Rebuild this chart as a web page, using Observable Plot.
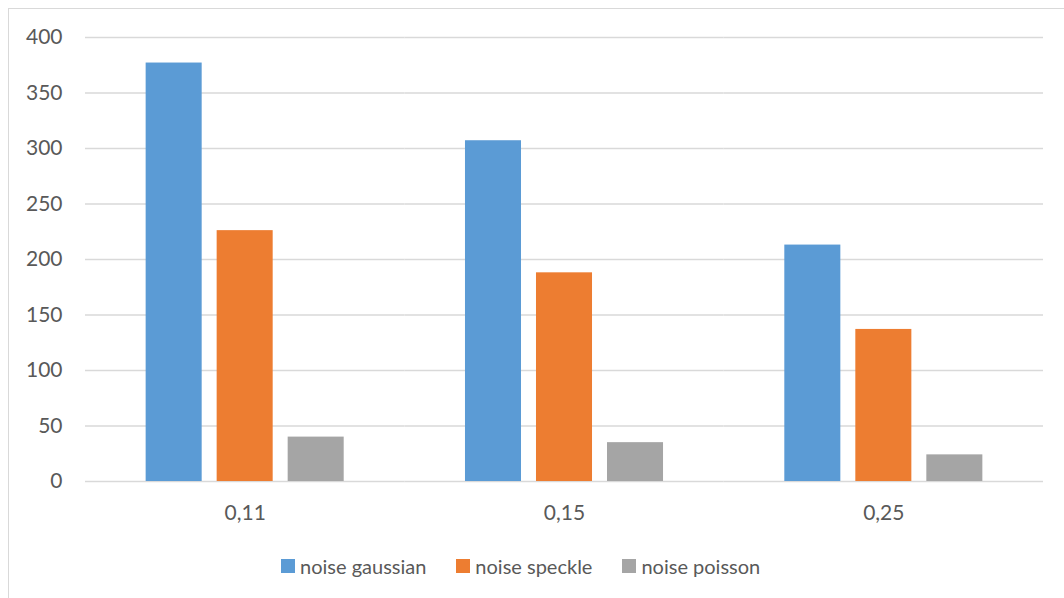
<!DOCTYPE html>
<html>
<head>
<meta charset="utf-8">
<script src="https://cdn.jsdelivr.net/npm/d3@7"></script>
<script src="https://cdn.jsdelivr.net/npm/@observablehq/plot@0.6"></script>
<style>
  html, body { margin: 0; padding: 0; background: #fff; }
  body { width: 1064px; height: 598px; overflow: hidden; position: relative; font-family: Lato, "Open Sans", sans-serif; }
  #frame { position: absolute; left: 8px; top: 8px; width: 1100px; height: 620px; border: 1px solid #d9d9d9; box-sizing: border-box; }
  #chart { position: absolute; left: 0; top: 0; }
  #legend { position: absolute; left: 281px; top: 553px; display: flex; align-items: center; font-size: 20px; line-height: 26px; color: #595959; white-space: nowrap; }
  #legend .item { display: flex; align-items: center; margin-right: 30px; }
  #legend .sw { width: 14px; height: 14px; margin-right: 5px; }
</style>
</head>
<body>
<div id="frame"></div>
<div id="chart"></div>
<div id="legend"></div>
<script>
const categories = ["0,11", "0,15", "0,25"];
const seriesNames = ["noise gaussian", "noise speckle", "noise poisson"];
const colors = ["#5b9bd5", "#ed7d31", "#a5a5a5"];
const gaussian = [377, 307, 213];
const speckle = [226, 188, 137];
const poisson = [40, 35, 24];
const yTicks = [0, 50, 100, 150, 200, 250, 300, 350, 400];

const seriesValues = [gaussian, speckle, poisson];
const data = [];
categories.forEach((c, i) => {
  seriesNames.forEach((s, j) => data.push({cat: c, series: s, value: seriesValues[j][i]}));
});

const chart = Plot.plot({
  width: 1064,
  height: 530,
  marginLeft: 85,
  marginRight: 21,
  marginTop: 37,
  marginBottom: 49,
  facet: {marginTop: 0, marginBottom: 0, marginLeft: 0, marginRight: 0},
  style: {fontFamily: "Lato, 'Open Sans', sans-serif", fontSize: "21px", color: "#595959", background: "transparent"},
  fx: {domain: categories, padding: 0, round: false, axis: "bottom", tickSize: 0, tickPadding: 24, label: null},
  x: {domain: seriesNames, paddingInner: 0.211, paddingOuter: 0.854, round: false, axis: null},
  y: {domain: [0, 400], ticks: yTicks, tickSize: 0, tickPadding: 23, label: null, tickFormat: d => String(d)},
  color: {domain: seriesNames, range: colors},
  marks: [
    Plot.ruleY(yTicks, {stroke: "#d9d9d9", strokeWidth: 1.5}),
    Plot.barY(data, {fx: "cat", x: "series", y: "value", fill: "series"})
  ]
});
document.getElementById("chart").appendChild(chart);

const legend = document.getElementById("legend");
seriesNames.forEach((s, i) => {
  const item = document.createElement("div");
  item.className = "item";
  const sw = document.createElement("span");
  sw.className = "sw";
  sw.style.background = colors[i];
  const t = document.createElement("span");
  t.textContent = s;
  item.appendChild(sw);
  item.appendChild(t);
  legend.appendChild(item);
});
</script>
</body>
</html>
